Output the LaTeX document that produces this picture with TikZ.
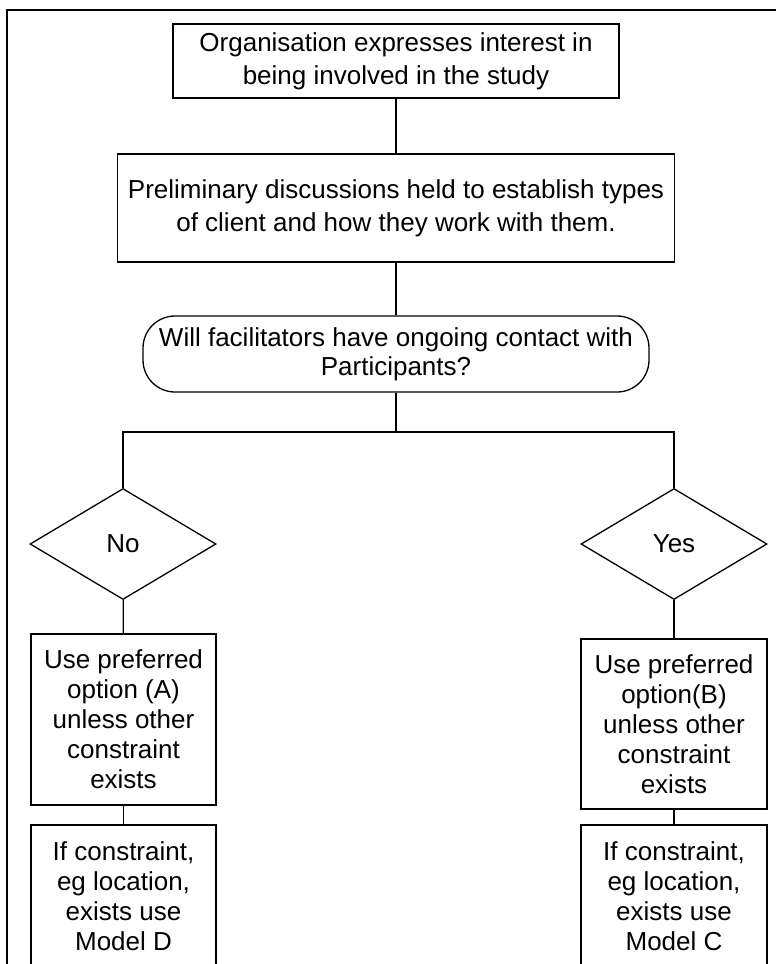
\documentclass[tikz,border=0pt]{standalone}
\usepackage{fontspec}
\setmainfont{Liberation Sans}
\usetikzlibrary{shapes.geometric}

\begin{document}
\begin{tikzpicture}[x=1pt,y=-1pt]
\tikzstyle{every node}+=[inner sep=0pt, align=center, font=\fontsize{26}{30}\selectfont]
\tikzstyle{box}=[draw=black, line width=1.3pt, rectangle]
\tikzstyle{query}=[draw=black, line width=1.3pt, rounded corners=32pt]
\tikzstyle{choice}=[draw=black, line width=1.3pt, diamond]
\tikzstyle{link}=[draw=black, line width=1.3pt]
\useasboundingbox (0,0) rectangle (776,964);
\clip (0,0) rectangle (776,964);
% frame
\draw [black, line width=1.1pt] (776,10) -- (7,10) -- (7,964);
% top of the chart
\node [box, minimum width=446pt, minimum height=74pt, font=\fontsize{26}{33}\selectfont] (org) at (396,61)
  {Organisation expresses interest in\\being involved in the study};
\node [box, minimum width=557pt, minimum height=108pt, font=\fontsize{26}{33}\selectfont] (prelim) at (396,208)
  {Preliminary discussions held to establish types\\of client and how they work with them.};
\node [query, minimum width=506pt, minimum height=76pt, font=\fontsize{26}{29}\selectfont] (contact) at (396,354)
  {Will facilitators have ongoing contact with\\Participants?};
\coordinate (split) at (396,432);
% the two branches
\node [choice, minimum width=186pt, minimum height=111pt] (no) at (123,544) {No};
\node [choice, minimum width=186pt, minimum height=111pt] (yes) at (674,544) {Yes};
\node [box, minimum width=185pt, minimum height=171pt] (optA) at (123.5,719.5)
  {Use preferred\\option (A)\\unless other\\constraint\\exists};
\node [box, minimum width=186pt, minimum height=170pt] (optB) at (674,724)
  {Use preferred\\option(B)\\unless other\\constraint\\exists};
\node [box, minimum width=185pt, minimum height=142pt] (modelD) at (123.5,896)
  {If constraint,\\eg location,\\exists use\\Model D};
\node [box, minimum width=186pt, minimum height=142pt] (modelC) at (674,896)
  {If constraint,\\eg location,\\exists use\\Model C};
% connectors
\draw [link] (org) -- (prelim);
\draw [link] (prelim) -- (contact);
\draw [link] (contact) -- (split);
\draw [link] (no.north) -- (no.north |- split) -- (yes.north |- split) -- (yes.north);
\draw [link] (no) -- (optA);
\draw [link] (yes) -- (optB);
\draw [link] (optA) -- (modelD);
\draw [link] (optB) -- (modelC);
\end{tikzpicture}
\end{document}
